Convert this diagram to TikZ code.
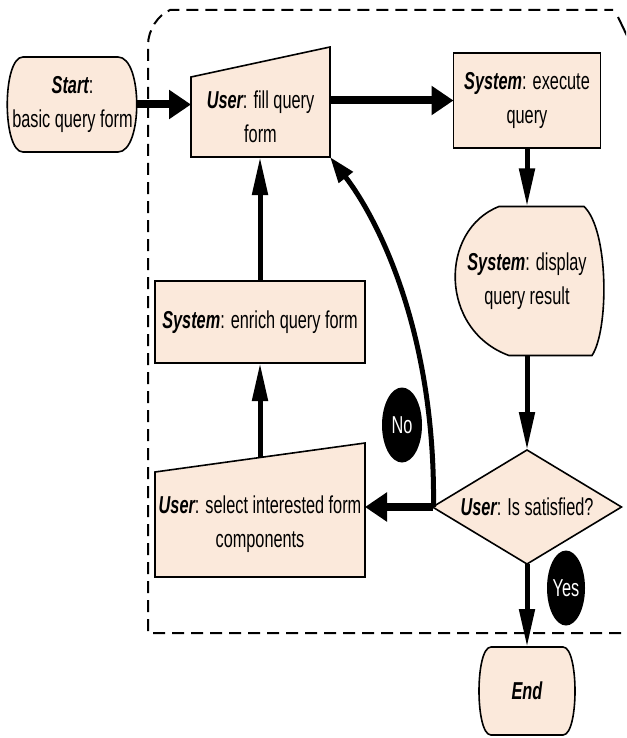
\documentclass[tikz,border=0pt]{standalone}
\usepackage{fontspec}
\setmainfont{Liberation Sans}
\usepackage{graphicx}
\usetikzlibrary{arrows.meta,calc,shapes.geometric}
\definecolor{peach}{RGB}{251,233,219}
\newcommand{\vsc}[1]{\scalebox{1}[1.5]{#1}}
\newcommand{\bi}[1]{{\bfseries\itshape #1}}
\pgfdeclarelayer{bg}
\pgfsetlayers{bg,main}
\begin{document}
\begin{tikzpicture}[x=1pt,y=-1pt,
  box/.style={inner sep=0pt, outer sep=0pt, align=center, font=\fontsize{16.3}{34}\selectfont},
  shp/.style={draw=black, fill=peach, line width=1.6pt, line join=miter},
  blackell/.style={ellipse, fill=black, text=white, inner sep=0pt, font=\fontsize{16.3}{20}\selectfont},
  harrow/.style={line width=8pt, -{Triangle[length=22pt,width=28pt]}},
  varrow/.style={line width=5pt, -{Triangle[length=38pt,width=15pt]}},
  carrow/.style={line width=5pt, -{Triangle[length=26pt,width=17pt]}},
  boundary/.style={line width=2pt, dash pattern=on 12pt off 7pt}
]
\path[use as bounding box] (0,0) rectangle (626,738);

% nodes (text)
\node[box, minimum width=129pt, minimum height=95pt] (start) at (72.5,104.5) {\vsc{\bi{Start}:}\\\vsc{basic query form}};
\node[box, minimum width=139pt, minimum height=80pt] (fill) at (260.5,117) {\vsc{\bi{User}: fill query}\\\vsc{form}};
\node[box, minimum width=147pt, minimum height=95pt] (exec) at (527,100.5) {\vsc{\bi{System}: execute}\\\vsc{query}};
\node[box, minimum width=151pt, minimum height=149pt] (disp) at (527,281) {\vsc{\bi{System}: display}\\\vsc{query result}};
\node[box, minimum width=189pt, minimum height=114pt] (dec) at (527,507) {\vsc{\bi{User}: Is satisfied?}};
\node[box, minimum width=96pt, minimum height=88pt] (end) at (527,691) {\vsc{\bi{End}}};
\node[box, minimum width=210pt, minimum height=82pt] (enrich) at (260,322) {\vsc{\bi{System}: enrich query form}};
\node[box, minimum width=210pt, minimum height=105pt] (select) at (260,524.5) {\vsc{\bi{User}: select interested form}\\\vsc{components}};
\node[blackell, minimum width=40pt, minimum height=75pt] (no) at (402,425) {\vsc{No}};
\node[blackell, minimum width=38pt, minimum height=75pt] (yes) at (566,588) {\vsc{Yes}};

\coordinate (selTR) at ($(select.north east)+(0,-29)$);
\coordinate (fillTR) at ($(fill.north east)+(0,-30)$);
\coordinate (selTop) at ($(select.north west)!0.5!(selTR)$);

% shapes
\begin{pgfonlayer}{bg}
\fill[white] (0,0) rectangle (626,738);
\draw[shp] (23,57) -- (118,57) .. controls (143,57) and (143,152) .. (118,152) -- (23,152) .. controls (2,152) and (2,57) .. (23,57) -- cycle;
\draw[shp] (fill.south west) -- (fill.south east) -- (fillTR) -- (fill.north west) -- cycle;
\draw[shp] (exec.north west) rectangle (exec.south east);
\draw[shp] (499,206.5) -- (584,206.5) .. controls (609,230) and (609,330) .. (592,355.5) -- (509,355.5) .. controls (439,330) and (439,230) .. (499,206.5) -- cycle;
\draw[shp] (dec.north) -- (dec.east) -- (dec.south) -- (dec.west) -- cycle;
\draw[shp] (491,647) -- (563,647) .. controls (579,647) and (579,735) .. (563,735) -- (491,735) .. controls (475,735) and (475,647) .. (491,647) -- cycle;
\draw[shp] (enrich.north west) rectangle (enrich.south east);
\draw[shp] (select.south west) -- (select.south east) -- (selTR) -- (select.north west) -- cycle;
\end{pgfonlayer}

% dashed boundary
\begin{scope}
\clip (0,0) rectangle (626,738);
\draw[boundary] (640,633) -- (148,633) -- (148,45) .. controls (148,30) and (158,15) .. (170,10) -- (613,10);
\draw[line width=2pt] (618,17) -- (630,42);
\end{scope}

% connectors
\draw[harrow] (start.east) -- (start.east -| fill.west);
\draw[harrow] (exec.west -| fill.east) -- (exec.west);
\draw[varrow] (exec.south) -- (disp.north);
\draw[varrow] (disp.south) -- (dec.north);
\draw[varrow] (dec.south) -- (end.north);
\draw[harrow] (dec.west) -- (dec.west -| select.east);
\draw[carrow] ([xshift=1pt]dec.west) .. controls +(2,-180) and (375,215) .. (fill.south east);
\draw[varrow] (enrich.north) -- (enrich.north |- fill.south);
\draw[varrow] (selTop) -- (enrich.south);
\end{tikzpicture}
\end{document}
